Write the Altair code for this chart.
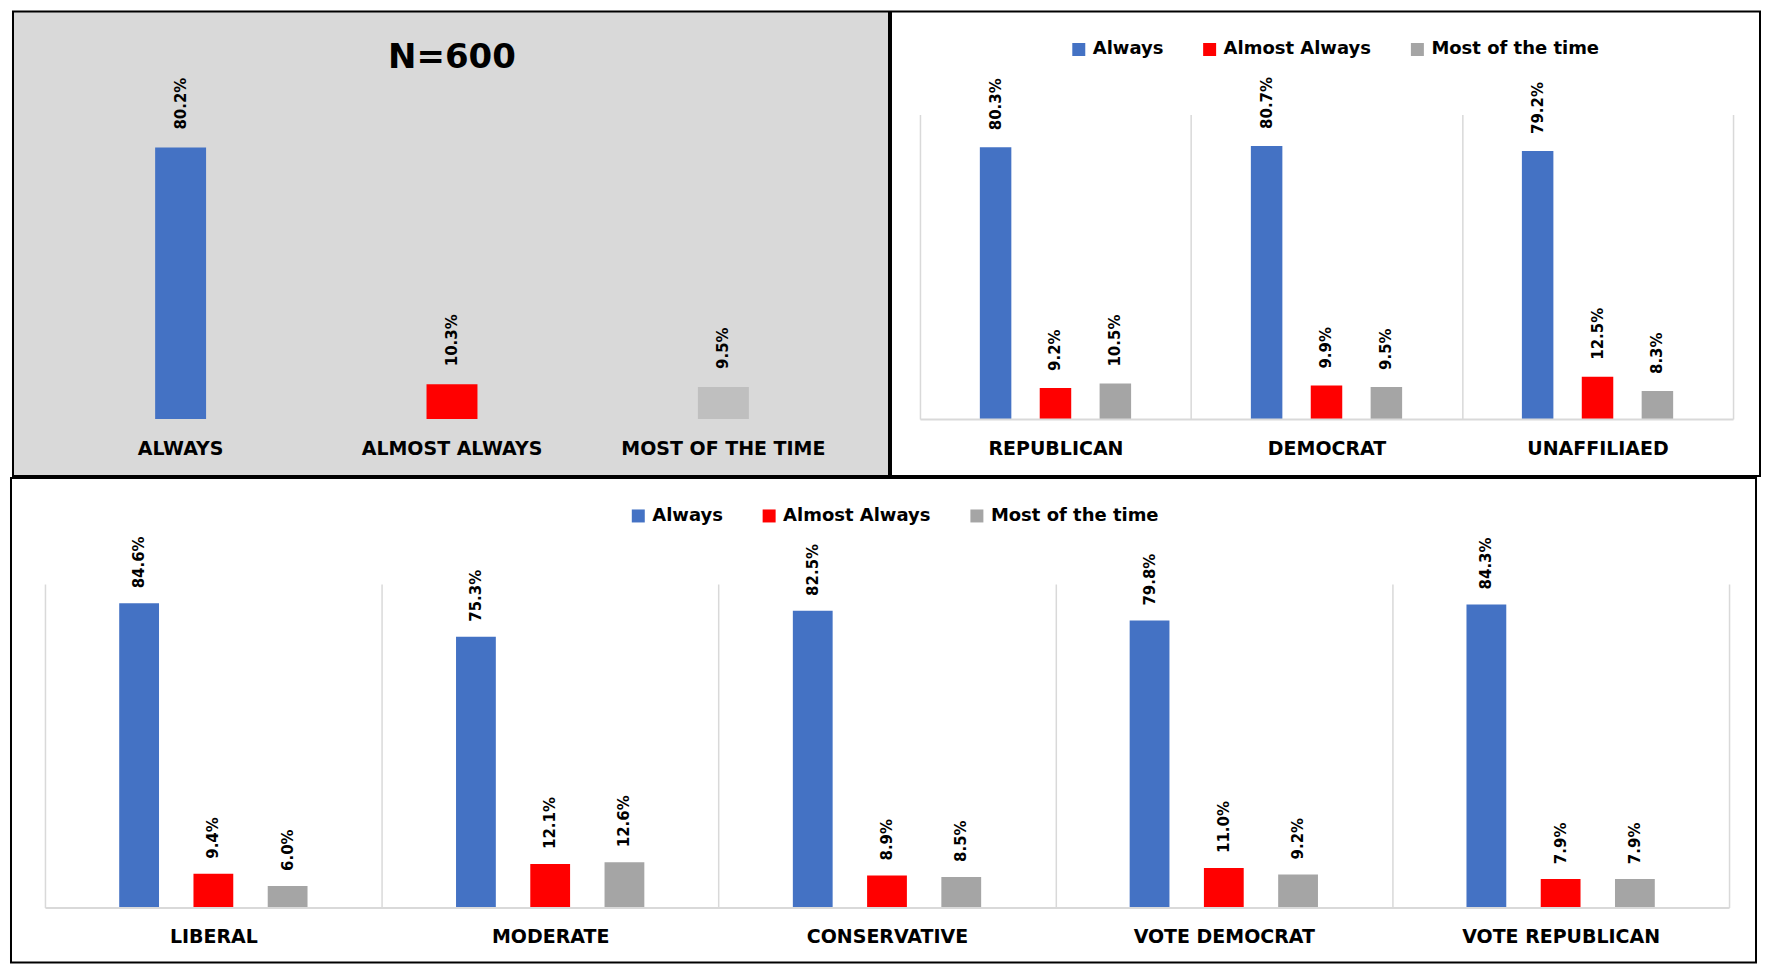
import altair as alt
import pandas as pd

# ---- data ----
series = ["Always", "Almost Always", "Most of the time"]

overall_labels = ["ALWAYS", "ALMOST ALWAYS", "MOST OF THE TIME"]
overall_values = [80.2, 10.3, 9.5]
overall_title = "N=600"

party_groups = ["REPUBLICAN", "DEMOCRAT", "UNAFFILIAED"]
party_always = [80.3, 80.7, 79.2]
party_almost = [9.2, 9.9, 12.5]
party_most = [10.5, 9.5, 8.3]

ideo_groups = ["LIBERAL", "MODERATE", "CONSERVATIVE", "VOTE DEMOCRAT", "VOTE REPUBLICAN"]
ideo_always = [84.6, 75.3, 82.5, 79.8, 84.3]
ideo_almost = [9.4, 12.1, 8.9, 11.0, 7.9]
ideo_most = [6.0, 12.6, 8.5, 9.2, 7.9]

# ---- styling ----
FONT = "DejaVu Sans"
colors = ["#4472C4", "#FF0000", "#A5A5A5"]
colors_overall = ["#4472C4", "#FF0000", "#BFBFBF"]
GRID = "#D9D9D9"


def long_df(groups, cols):
    rows = []
    for gi, g in enumerate(groups):
        for s, vals in zip(series, cols):
            rows.append({"group": g, "series": s, "value": vals[gi]})
    return pd.DataFrame(rows)


overall_df = pd.DataFrame({"group": overall_labels, "series": series, "value": overall_values})
party_df = long_df(party_groups, [party_always, party_almost, party_most])
ideo_df = long_df(ideo_groups, [ideo_always, ideo_almost, ideo_most])


def frame(left, top, w, h, right, bottom, fill):
    return alt.Chart(alt.Data(values=[{}])).mark_rect(
        fill=fill, stroke="black", strokeWidth=2
    ).encode(
        x=alt.value(-left), x2=alt.value(w + right),
        y=alt.value(-top), y2=alt.value(h + bottom),
    )


def x_axis(grid):
    kw = dict(title=None, labelAngle=0, labelFont=FONT, labelFontWeight="bold",
              labelFontSize=19, labelColor="black", ticks=False, tickSize=0,
              labelPadding=20, labelLimit=500, domain=grid, grid=grid, zindex=1)
    if grid:
        kw.update(domainColor=GRID, domainWidth=2, gridColor=GRID, gridWidth=1.5,
                  tickBand="extent")
    return alt.Axis(**kw)


Y = alt.Y("value:Q", scale=alt.Scale(domain=[0, 90], nice=False), axis=None)

label_mark = dict(angle=270, align="left", baseline="middle", font=FONT,
                  fontWeight="bold", fontSize=15, color="black")


def legend(lx, ly):
    return alt.Legend(title=None, orient="none", legendX=lx, legendY=ly,
                      direction="horizontal", symbolType="square", symbolSize=169,
                      symbolStrokeWidth=0, labelFont=FONT, labelFontSize=18,
                      labelFontWeight="bold", labelColor="black", labelOffset=5,
                      labelLimit=400, columnPadding=37, padding=0)


# ---- top-left panel (overall) ----
LW, LH = 815, 305
left_base = alt.Chart(overall_df).encode(
    x=alt.X("group:N", sort=overall_labels,
            scale=alt.Scale(paddingInner=0.8123, paddingOuter=0.406), axis=x_axis(False)),
    y=Y,
)
left_bars = left_base.mark_bar().encode(
    color=alt.Color("series:N", scale=alt.Scale(domain=series, range=colors_overall), legend=None)
)
left_text = left_base.mark_text(dx=18, **label_mark).encode(text="label:N").transform_calculate(
    label="format(datum.value, '.1f') + '%'"
)
left_title = alt.Chart(alt.Data(values=[{"t": overall_title}])).mark_text(
    font=FONT, fontSize=34, fontWeight="bold", color="black", align="center", baseline="middle"
).encode(text="t:N", x=alt.value(LW / 2), y=alt.value(-56))

left = alt.layer(
    frame(32, 103, LW, LH, 30, 57, "#D9D9D9"), left_bars, left_text, left_title
).properties(width=LW, height=LH)


def grouped(df, groups, p_in, p_out, lx, ly, dx):
    base = alt.Chart(df).encode(
        x=alt.X("group:N", sort=groups, scale=alt.Scale(paddingInner=0, paddingOuter=0),
                axis=x_axis(True)),
        xOffset=alt.XOffset("series:N", sort=series,
                            scale=alt.Scale(paddingInner=p_in,
                                            paddingOuter=alt.ExprRef(expr=str(p_out)))),
        y=Y,
    )
    bars = base.mark_bar().encode(
        color=alt.Color("series:N", sort=series,
                        scale=alt.Scale(domain=series, range=colors), legend=legend(lx, ly))
    )
    text = base.mark_text(dx=dx, **label_mark).encode(text="label:N").transform_calculate(
        label="format(datum.value, '.1f') + '%'"
    )
    return bars, text


# ---- top-right panel (party) ----
RW, RH = 814, 305
r_bars, r_text = grouped(party_df, party_groups, 0.474, 1.18, 150, -74, 17)
right = alt.layer(frame(29, 103, RW, RH, 27, 57, "white"), r_bars, r_text).properties(
    width=RW, height=RH)

# ---- bottom panel (ideology / vote) ----
BW, BH = 1686, 324
b_bars, b_text = grouped(ideo_df, ideo_groups, 0.464, 1.19, 585, -77, 15)
bottom = alt.layer(frame(34, 106, BW, BH, 27, 55, "white"), b_bars, b_text).properties(
    width=BW, height=BH)

top = alt.hconcat(left, right, spacing=0).resolve_scale(
    color="independent", xOffset="independent").resolve_legend(color="independent")

chart = alt.vconcat(top, bottom, spacing=0).resolve_scale(
    color="independent", xOffset="independent"
).resolve_legend(color="independent").configure_view(stroke=None).properties(
    padding=2, background="white")

chart.save("out.html", embed_options={"renderer": "svg", "actions": False})
